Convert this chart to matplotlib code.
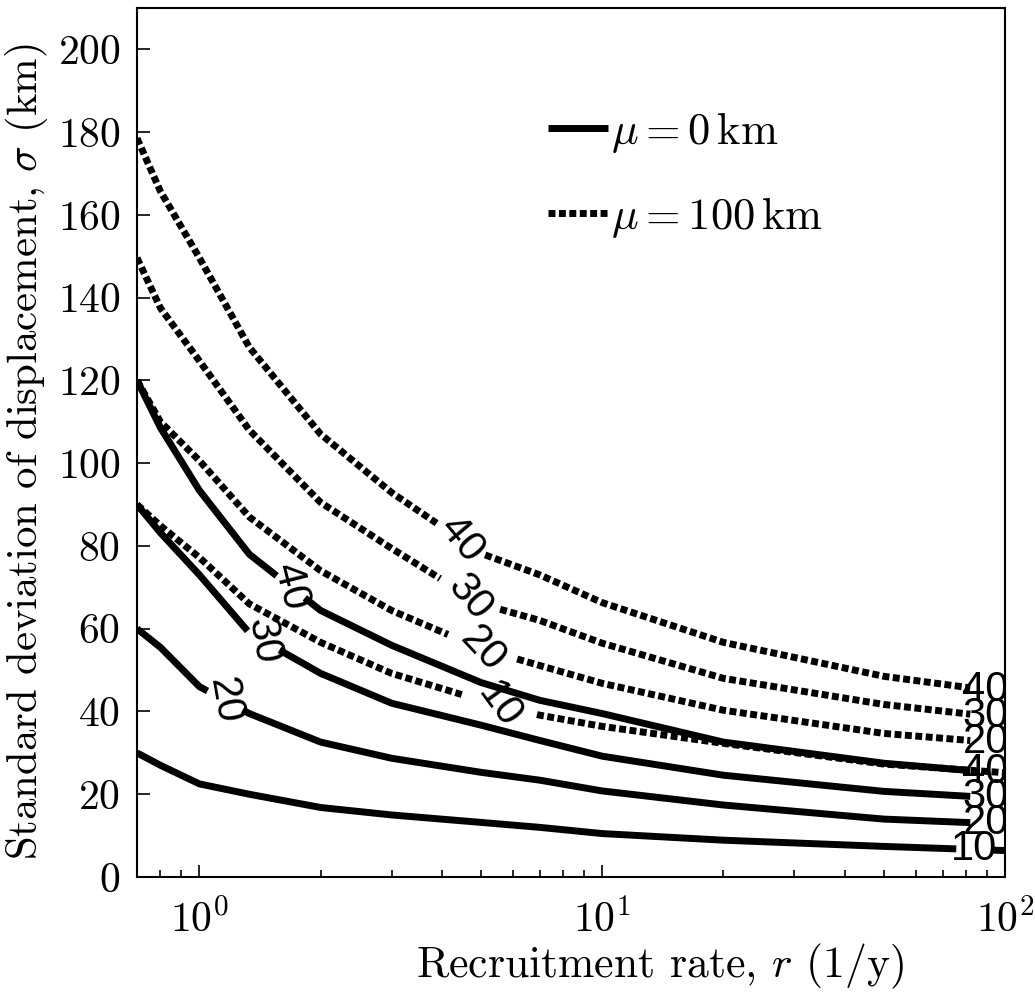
import numpy as np
import matplotlib
matplotlib.use('Agg')
from matplotlib import pyplot as plt

plt.rcParams['font.family'] = 'serif'
plt.rcParams['font.serif'] = ['cmr10']
plt.rcParams['mathtext.fontset'] = 'cm'
plt.rcParams['axes.unicode_minus'] = False
plt.rcParams['axes.formatter.use_mathtext'] = True

# recruitment rate r (1/y) where the curves were read
r_pts = [0.7, 0.8, 1, 1.33, 2, 3, 5, 7, 10, 20, 50, 100]

# mu = 0 km (solid), contour levels 10..40
sig0_10 = [30, 27, 22.5, 20.0, 16.8, 15.0, 13.2, 12.0, 10.5, 8.9, 7.4, 6.4]
sig0_20 = [60, 55.5, 46, 39.5, 32.6, 28.7, 25.3, 23.4, 20.8, 17.4, 14.0, 12.8]
sig0_30 = [90, 83.2, 73, 59, 49.2, 42, 36.7, 33.0, 29.2, 24.6, 20.7, 19.0]
sig0_40 = [120, 108.6, 93.4, 78, 64.4, 56, 47, 42.7, 39.5, 32.6, 27.5, 25.0]

# mu = 100 km (dotted)
sig100_10 = [90, 84.9, 77.2, 66, 56.7, 49.2, 42.7, 39.1, 36.4, 32.3, 27.3, 25.2]
sig100_20 = [120, 110, 100.6, 87, 74, 64.4, 55.2, 51.1, 46.8, 40.3, 34.7, 32.3]
sig100_30 = [149.6, 137.5, 124.7, 108, 90.5, 79.4, 66, 62, 56.5, 48, 41.7, 38.4]
sig100_40 = [178.5, 165.7, 149.6, 128, 107, 92.9, 78.2, 73.0, 66.3, 56.7, 48.5, 44.6]

levels = ['10', '20', '30', '40']
solid_curves = [sig0_10, sig0_20, sig0_30, sig0_40]
dotted_curves = [sig100_10, sig100_20, sig100_30, sig100_40]

# where the inline labels cut the curves (r range of the gap, label rotation)
solid_gaps = [[(75.7, 92.4, 0)],
              [(1.047, 1.28, -80), (82, 200, 0)],
              [(1.317, 1.58, -80), (82, 200, 0)],
              [(1.555, 1.826, -76), (82, 200, 0)]]
dotted_gaps = [[(4.48, 6.89, -54)],
               [(4.14, 6.15, -47), (82, 200, 0)],
               [(3.96, 5.58, -50), (82, 200, 0)],
               [(3.88, 5.12, -50), (82, 200, 0)]]


def draw_curve(ax, r, s, gaps, label, **kw):
    lr = np.log10(r)
    s = np.asarray(s, float)
    pieces = []
    start = lr[0]
    for g0, g1, _ in gaps:
        pieces.append((start, np.log10(g0)))
        start = np.log10(g1)
    pieces.append((start, lr[-1]))
    line = None
    for a, b in pieces:
        if b <= a:
            continue
        inside = (lr > a) & (lr < b)
        xs = np.concatenate([[a], lr[inside], [b]])
        ys = np.interp(xs, lr, s)
        line, = ax.plot(10 ** xs, ys, **kw)
    for g0, g1, rot in gaps:
        if rot == 0 and g1 > 100:
            xm = np.log10(89.5)
        else:
            xm = 0.5 * (np.log10(g0) + np.log10(g1))
        ym = np.interp(xm, lr, s)
        ax.text(10 ** xm, ym, label, rotation=rot, rotation_mode='anchor',
                ha='center', va='center', fontsize=30,
                family='Liberation Sans', clip_on=True)
    return line


fig = plt.figure(figsize=(10.35, 9.92), dpi=100)
ax = fig.add_axes([0.1324, 0.1159, 0.8386, 0.8761])

for lev, s, gaps in zip(levels, solid_curves, solid_gaps):
    h_solid = draw_curve(ax, r_pts, s, gaps, lev, color='black', lw=5.0,
                         solid_capstyle='butt', solid_joinstyle='round')
for lev, s, gaps in zip(levels, dotted_curves, dotted_gaps):
    h_dot = draw_curve(ax, r_pts, s, gaps, lev, color='black', lw=5.0,
                       linestyle=(0, (1.0, 0.5)), dash_capstyle='butt')

ax.set_xscale('log')
ax.set_xlim(0.7, 100)
ax.set_ylim(0, 210)
ax.set_yticks(np.arange(0, 201, 20))

ax.tick_params(which='both', direction='in', top=False, right=False,
               labelsize=30, width=1.2)
ax.tick_params(which='major', length=9)
ax.tick_params(which='minor', length=5)
ax.tick_params(axis='y', pad=12)
ax.tick_params(axis='x', pad=16)
for sp in ax.spines.values():
    sp.set_linewidth(1.5)

ax.set_xlabel(r'Recruitment rate, $r$ (1/y)', fontsize=31.5)
ax.xaxis.set_label_coords(0.6025, -0.075)
ax.set_ylabel(r'Standard deviation of displacement, $\sigma$ (km)',
              fontsize=30.8)
ax.yaxis.set_label_coords(-0.1, 0.489)

ax.legend([h_solid, h_dot],
          [r'$\mu = 0\,\mathrm{km}$', r'$\mu = 100\,\mathrm{km}$'],
          loc='upper left', bbox_to_anchor=(0.473, 0.883), frameon=False,
          fontsize=32, handlelength=1.35, handletextpad=0.08,
          labelspacing=0.9, borderaxespad=0, borderpad=0)

fig.savefig('out.png', dpi=100)
